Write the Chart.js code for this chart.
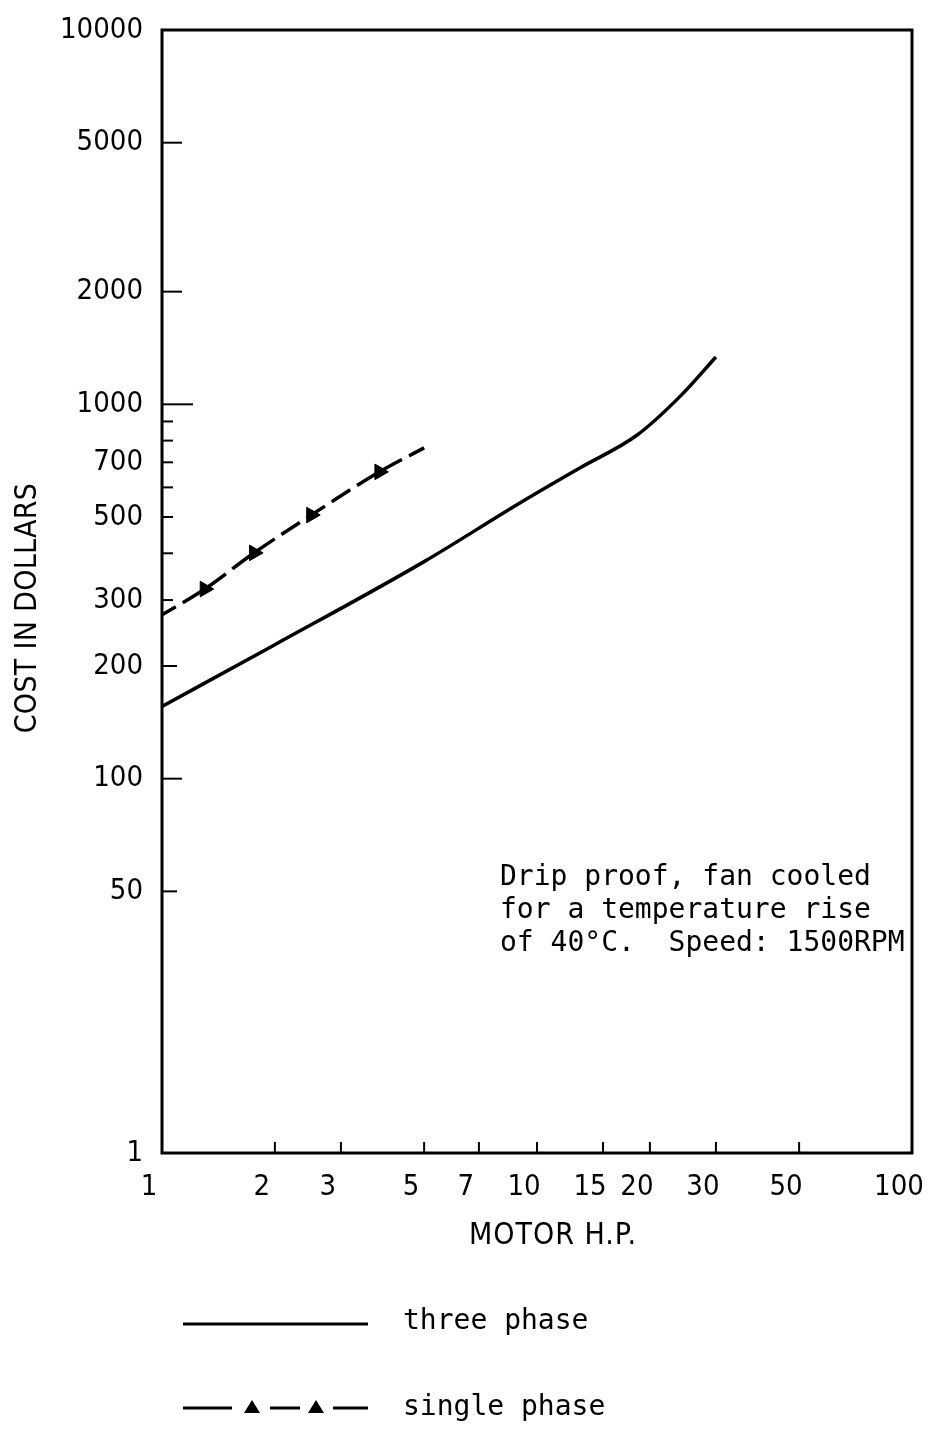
<!DOCTYPE html>
<html>
<head>
<meta charset="utf-8">
<script src="https://cdn.jsdelivr.net/npm/chart.js@4/dist/chart.umd.min.js"></script>
<style>
  body { margin: 0; background: #fff; }
  #chart { display: block; }
</style>
</head>
<body>
<canvas id="chart" width="930" height="1429"></canvas>
<script>
/******************************** data ********************************/
const hpTicks = [1, 2, 3, 5, 7, 10, 15, 20, 30, 50, 100];
const costTicks = [10, 50, 100, 200, 300, 500, 700, 1000, 2000, 5000, 10000];
const costMinorTicks = [400, 600, 800, 900];

const threePhaseHp = [1, 2, 5, 9, 13, 18.5, 24, 30];
const threePhaseCost = [156, 228, 380, 545, 676, 828, 1047, 1338];

const singlePhaseHp = [1, 1.3, 1.76, 2.5, 3.8, 5];
const singlePhaseCost = [274, 321, 401, 506, 660, 765];

const noteLines = ['Drip proof, fan cooled', 'for a temperature rise', 'of 40°C.  Speed: 1500RPM'];

/******************************** fonts ********************************/
const labelFont = "'DejaVu Sans Condensed', 'Liberation Sans Narrow', sans-serif";
const monoFont = "'DejaVu Sans Mono', 'Liberation Mono', monospace";

const toPoints = (xs, ys) => xs.map((x, i) => ({x: x, y: ys[i]}));

// length of the little inward tick for each cost value
const yTickLen = (v) => {
    if (v === 1000) return 31;
    if (v === 5000 || v === 2000 || v === 100) return 20;
    if (v === 200 || v === 50) return 15;
    if (v === 10 || v === 10000) return 0;
    return 11;
};

// keep the plot box where the scan has it: no extra room for overflowing labels
const noOverflow = (s) => {
    s.paddingLeft = 0; s.paddingRight = 0; s.paddingTop = 0; s.paddingBottom = 0;
};

/******************************** decorations ********************************/
const decorations = {
    id: 'decorations',
    afterDraw(chart) {
        const ctx = chart.ctx;
        const a = chart.chartArea;
        const xs = chart.scales.x;
        const ys = chart.scales.y;
        ctx.save();
        ctx.strokeStyle = '#000';
        ctx.fillStyle = '#000';

        // frame
        ctx.lineWidth = 3;
        ctx.strokeRect(a.left, a.top, a.right - a.left, a.bottom - a.top);

        // inward ticks
        ctx.lineWidth = 2;
        costTicks.concat(costMinorTicks).forEach((v) => {
            const len = yTickLen(v);
            if (!len) return;
            const py = ys.getPixelForValue(v);
            ctx.beginPath();
            ctx.moveTo(a.left, py);
            ctx.lineTo(a.left + len, py);
            ctx.stroke();
        });
        hpTicks.forEach((v) => {
            if (v === 1 || v === 100) return;
            const px = xs.getPixelForValue(v);
            ctx.beginPath();
            ctx.moveTo(px, a.bottom);
            ctx.lineTo(px, a.bottom - 11);
            ctx.stroke();
        });

        // axis titles
        ctx.font = '30px ' + labelFont;
        ctx.textAlign = 'center';
        ctx.textBaseline = 'middle';
        ctx.letterSpacing = '1px';
        ctx.fillText('MOTOR H.P.', 553, 1236);
        ctx.letterSpacing = '0.3px';
        ctx.save();
        ctx.translate(28, 608);
        ctx.rotate(-Math.PI / 2);
        ctx.fillText('COST IN DOLLARS', 0, 0);
        ctx.restore();
        ctx.letterSpacing = '0px';

        // note
        ctx.font = '28px ' + monoFont;
        ctx.textAlign = 'left';
        noteLines.forEach((t, i) => ctx.fillText(t, 500, 878 + i * 33));

        // legend
        ctx.lineWidth = 3;
        ctx.beginPath();
        ctx.moveTo(183, 1324);
        ctx.lineTo(368, 1324);
        ctx.stroke();
        [[183, 232], [270, 300], [333, 368]].forEach((s) => {
            ctx.beginPath();
            ctx.moveTo(s[0], 1408);
            ctx.lineTo(s[1], 1408);
            ctx.stroke();
        });
        [252, 316].forEach((cx) => {
            ctx.beginPath();
            ctx.moveTo(cx, 1400);
            ctx.lineTo(cx + 8, 1413);
            ctx.lineTo(cx - 8, 1413);
            ctx.closePath();
            ctx.fill();
        });
        ctx.fillText('three phase', 403, 1322);
        ctx.fillText('single phase', 403, 1408);
        ctx.restore();
    }
};

/******************************** chart ********************************/
new Chart(document.getElementById('chart'), {
    type: 'line',
    data: {
        datasets: [{
            label: 'three phase',
            data: toPoints(threePhaseHp, threePhaseCost),
            borderColor: '#000',
            borderWidth: 3.5,
            pointRadius: 0,
            cubicInterpolationMode: 'monotone'
        }, {
            label: 'single phase',
            data: toPoints(singlePhaseHp, singlePhaseCost),
            borderColor: '#000',
            backgroundColor: '#000',
            borderWidth: 3.5,
            borderDash: [22, 8],
            borderDashOffset: 6,
            pointStyle: 'triangle',
            pointRadius: [0, 9, 9, 9, 9, 0],
            pointRotation: 90,
            pointBorderWidth: 1,
            cubicInterpolationMode: 'monotone'
        }]
    },
    options: {
        responsive: false,
        animation: false,
        layout: {padding: {left: 0, right: 18, top: 30, bottom: 216}},
        plugins: {legend: {display: false}, tooltip: {enabled: false}},
        scales: {
            x: {
                type: 'logarithmic',
                min: 1,
                max: 100,
                grid: {display: false, drawTicks: false},
                border: {display: false},
                afterFit: (s) => { s.height = 60; noOverflow(s); },
                afterBuildTicks: (s) => { s.ticks = hpTicks.map((v) => ({value: v})); },
                ticks: {
                    autoSkip: false,
                    maxRotation: 0,
                    padding: 17,
                    labelOffset: -13,
                    color: '#000',
                    font: {family: labelFont, size: 29},
                    callback: (v) => String(v)
                }
            },
            y: {
                type: 'logarithmic',
                min: 10,
                max: 10000,
                grid: {display: false, drawTicks: false},
                border: {display: false},
                afterFit: (s) => { s.width = 162; noOverflow(s); },
                afterBuildTicks: (s) => { s.ticks = costTicks.map((v) => ({value: v})); },
                ticks: {
                    autoSkip: false,
                    padding: 19,
                    color: '#000',
                    font: {family: labelFont, size: 29},
                    callback: (v) => (v === 10 ? '1' : String(v))
                }
            }
        }
    },
    plugins: [decorations]
});
</script>
</body>
</html>
